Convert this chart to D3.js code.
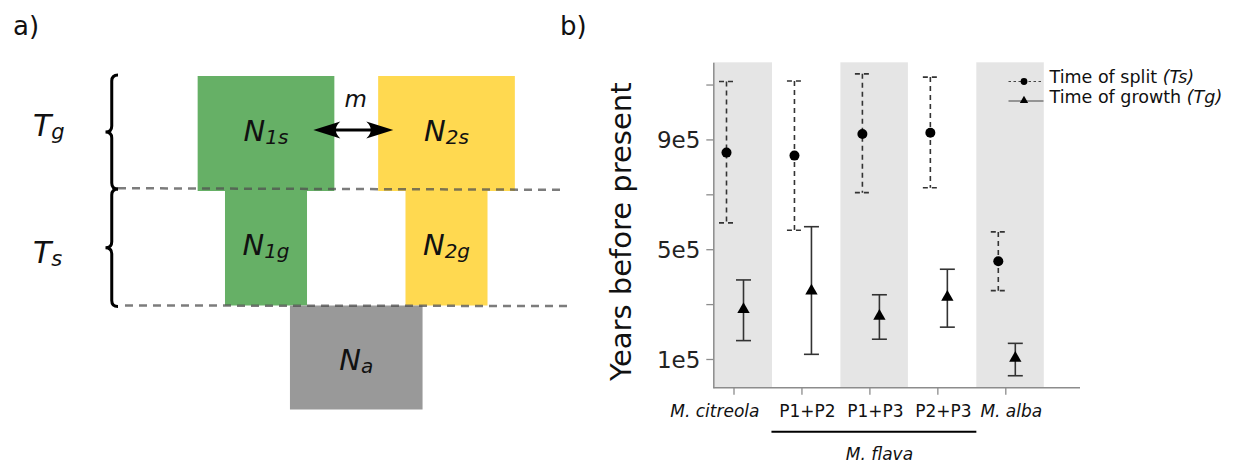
<!DOCTYPE html>
<html>
<head>
<meta charset="utf-8">
<script src="https://cdn.jsdelivr.net/npm/d3@7"></script>
<style>
  body { margin: 0; background: #fff; }
  svg { display: block; font-family: "DejaVu Sans", sans-serif; }
</style>
</head>
<body>
<svg id="fig" width="1237" height="467"></svg>
<script>
// ------- panel b data (years before present) -------
const categories = ["M. citreola", "P1+P2", "P1+P3", "P2+P3", "M. alba"];
const splitMid = [8.52e5, 8.41e5, 9.20e5, 9.24e5, 4.56e5];
const splitLow = [5.96e5, 5.69e5, 7.06e5, 7.24e5, 3.49e5];
const splitHigh = [11.11e5, 11.13e5, 11.39e5, 11.27e5, 5.63e5];
const growthMid = [2.81e5, 3.48e5, 2.56e5, 3.25e5, 1.03e5];
const growthLow = [1.67e5, 1.17e5, 1.72e5, 2.16e5, 0.39e5];
const growthHigh = [3.88e5, 5.82e5, 3.34e5, 4.27e5, 1.57e5];
const yTicks = [1e5, 3e5, 5e5, 7e5, 9e5, 11e5];
const yTickLabels = ["1e5", "", "5e5", "", "9e5", ""];
const shadedCats = ["M. citreola", "P1+P3", "M. alba"];
const flavaCats = ["P1+P2", "P2+P3"];

// ------- panel a data (model diagram) -------
const popSubs = ["1s", "2s", "1g", "2g", "a"];
const popLineage = ["p1", "p2", "p1", "p2", "anc"];
const popEpoch = [0, 0, 1, 1, 2];
const popRelSize = [1, 1, 0.6, 0.6, 0.97];
const periodLabels = ["g", "s"];

const svg = d3.select("#fig");
const lineageColor = { p1: "#66b066", p2: "#ffd950", anc: "#999999" };

// ================= panel a =================
const pa = svg.append("g");

pa.append("text")
  .attr("x", 13).attr("y", 35)
  .attr("font-size", "26px").attr("fill", "#111")
  .text("a)");

const lineageX = d3.scalePoint().domain(["p1", "anc", "p2"]).range([266, 446.5]);
const epochY = d3.scaleLinear().domain([0, 1, 2, 3]).range([76, 191, 305.5, 409.5]);
const sizeW = d3.scaleLinear().domain([0, 1]).range([0, 136.7]);

const pops = popSubs.map((s, i) => ({ sub: s, lin: popLineage[i], ep: popEpoch[i], rel: popRelSize[i] }));

pa.selectAll("rect.pop")
  .data(pops)
  .enter()
  .append("rect")
  .attr("class", "pop")
  .attr("x", d => lineageX(d.lin) - sizeW(d.rel) / 2)
  .attr("y", d => epochY(d.ep))
  .attr("width", d => sizeW(d.rel))
  .attr("height", d => epochY(d.ep + 1) - epochY(d.ep))
  .attr("fill", d => lineageColor[d.lin]);

// dashed epoch boundaries
[[118, 565, 1], [125, 572, 2]].forEach(b => {
  pa.append("line")
    .attr("x1", b[0]).attr("x2", b[1])
    .attr("y1", epochY(b[2]) - (b[2] === 1 ? 2.8 : 0)).attr("y2", epochY(b[2]) - (b[2] === 1 ? 1.2 : -0.5))
    .attr("stroke", "rgba(80,80,80,0.75)")
    .attr("stroke-width", 2.5)
    .attr("stroke-dasharray", "8,6");
});

// population labels
const popText = pa.selectAll("text.pop")
  .data(pops)
  .enter()
  .append("text")
  .attr("class", "pop")
  .attr("text-anchor", "middle")
  .attr("font-style", "italic")
  .attr("fill", "#111")
  .attr("x", d => lineageX(d.lin))
  .attr("y", d => (epochY(d.ep) + epochY(d.ep + 1)) / 2 + (d.ep === 2 ? 12 : 7));
popText.append("tspan").attr("font-size", "29px").text("N");
popText.append("tspan").attr("font-size", "20px").attr("dy", 3).text(d => d.sub);

// migration arrow
const ay = 130, ax0 = 313.3, ax1 = 393.3;
pa.append("line")
  .attr("x1", ax0 + 15).attr("x2", ax1 - 15)
  .attr("y1", ay).attr("y2", ay)
  .attr("stroke", "#000").attr("stroke-width", 3);
[[ax0, 1], [ax1, -1]].forEach(h => {
  const t = h[0], s = h[1];
  pa.append("path")
    .attr("d", `M${t},${ay} L${t + s * 27},${ay - 8.5} Q${t + s * 18},${ay} ${t + s * 27},${ay + 8.5} Z`)
    .attr("fill", "#000");
});
pa.append("text")
  .attr("x", 355.7).attr("y", 107)
  .attr("text-anchor", "middle")
  .attr("font-size", "23px").attr("font-style", "italic").attr("fill", "#111")
  .text("m");

// braces + period labels
function bracePath(xTip, xEnd, y0, y1) {
  const xm = (xTip + xEnd) / 2, ym = (y0 + y1) / 2, r = 6;
  return `M${xEnd},${y0} Q${xm},${y0} ${xm},${y0 + r} L${xm},${ym - r} Q${xm},${ym} ${xTip},${ym}` +
    ` Q${xm},${ym} ${xm},${ym + r} L${xm},${y1 - r} Q${xm},${y1} ${xEnd},${y1}`;
}
const braceY = [[75, 189], [189, 306.5]];
periodLabels.forEach((p, i) => {
  pa.append("path")
    .attr("d", bracePath(105.5, 118, braceY[i][0], braceY[i][1]))
    .attr("fill", "none").attr("stroke", "#000").attr("stroke-width", 3);
  const t = pa.append("text")
    .attr("x", 33).attr("y", (braceY[i][0] + braceY[i][1]) / 2 + 4 + i * 11)
    .attr("font-style", "italic").attr("fill", "#111");
  t.append("tspan").attr("font-size", "30px").text("T");
  t.append("tspan").attr("font-size", "21px").attr("dy", 3).text(p);
});

// ================= panel b =================
const pb = svg.append("g");

pb.append("text")
  .attr("x", 560).attr("y", 35)
  .attr("font-size", "26px").attr("fill", "#111")
  .text("b)");

const plotLeft = 713.3, plotRight = 1080, plotTop = 62.3, plotBottom = 387.7;
const x = d3.scalePoint().domain(categories).range([733.5, 1005.3]);
const y = d3.scaleLinear().domain([-4600, 1.181e6]).range([plotBottom, plotTop]);

// alternating shading
pb.selectAll("rect.band")
  .data(shadedCats)
  .enter()
  .append("rect")
  .attr("class", "band")
  .attr("x", d => Math.max(plotLeft, x(d) - 29))
  .attr("y", plotTop)
  .attr("width", d => x(d) + 38.5 - Math.max(plotLeft, x(d) - 29))
  .attr("height", plotBottom - plotTop)
  .attr("fill", "#e5e5e5");

// axes
const axisColor = "#8c8c8c";
const yAxis = pb.append("g")
  .attr("transform", `translate(${plotLeft},0)`)
  .call(d3.axisLeft(y).tickValues(yTicks).tickFormat((d, i) => yTickLabels[i]).tickSize(7).tickSizeOuter(0));
yAxis.select(".domain").attr("stroke", axisColor).attr("stroke-width", 1.5);
yAxis.selectAll(".tick line").attr("stroke", axisColor).attr("stroke-width", 1.3);
yAxis.selectAll(".tick text")
  .attr("x", -13).attr("dy", "0.36em")
  .attr("font-size", "23px").attr("font-family", "DejaVu Sans").attr("fill", "#222");

const xAxis = pb.append("g")
  .attr("transform", `translate(0,${plotBottom})`)
  .call(d3.axisBottom(x).tickSize(7).tickFormat(""));
xAxis.select(".domain").remove();
xAxis.selectAll(".tick line").attr("stroke", axisColor).attr("stroke-width", 1.3);
pb.append("line")
  .attr("x1", plotLeft).attr("x2", plotRight)
  .attr("y1", plotBottom).attr("y2", plotBottom)
  .attr("stroke", axisColor).attr("stroke-width", 1.5);

// category labels
pb.selectAll("text.cat")
  .data(categories)
  .enter()
  .append("text")
  .attr("class", "cat")
  .attr("x", (d, i) => i === 0 ? x(d) + 26 : x(d) + 6)
  .attr("y", 417.3)
  .attr("text-anchor", (d, i) => i === 0 ? "end" : "middle")
  .attr("font-size", "17px")
  .attr("font-style", d => d.startsWith("M.") ? "italic" : "normal")
  .attr("fill", "#111")
  .text(d => d);

// M. flava bracket
pb.append("line")
  .attr("x1", x(flavaCats[0]) - 30).attr("x2", x(flavaCats[1]) + 39)
  .attr("y1", 431.7).attr("y2", 431.7)
  .attr("stroke", "#000").attr("stroke-width", 2);
pb.append("text")
  .attr("x", (x(flavaCats[0]) + x(flavaCats[1])) / 2 + 10)
  .attr("y", 460)
  .attr("text-anchor", "middle")
  .attr("font-size", "17px").attr("font-style", "italic").attr("fill", "#111")
  .text("M. flava");

// y title
pb.append("text")
  .attr("transform", "translate(631,231.7) rotate(-90)")
  .attr("text-anchor", "middle")
  .attr("font-size", "29px").attr("fill", "#111")
  .text("Years before present");

// error bars + points
const splitOff = -7, growthOff = 10, capHalf = 7.5;
const series = [
  { mid: splitMid, lo: splitLow, hi: splitHigh, off: splitOff, dash: "5,4", shape: "circle" },
  { mid: growthMid, lo: growthLow, hi: growthHigh, off: growthOff, dash: null, shape: "triangle" }
];
series.forEach(s => {
  const rows = categories.map((c, i) => ({ c: c, mid: s.mid[i], lo: s.lo[i], hi: s.hi[i] }));
  const g = pb.append("g");
  const bars = g.selectAll("g.bar").data(rows).enter().append("g").attr("class", "bar");
  const style = sel => sel.attr("stroke", "#333").attr("stroke-width", 1.6)
    .attr("stroke-dasharray", s.dash);
  bars.append("line")
    .attr("x1", d => x(d.c) + s.off).attr("x2", d => x(d.c) + s.off)
    .attr("y1", d => y(d.hi)).attr("y2", d => y(d.lo))
    .call(style);
  ["hi", "lo"].forEach(k => {
    bars.append("line")
      .attr("x1", d => x(d.c) + s.off - capHalf).attr("x2", d => x(d.c) + s.off + capHalf)
      .attr("y1", d => y(d[k])).attr("y2", d => y(d[k]))
      .call(style);
  });
  if (s.shape === "circle") {
    bars.append("circle")
      .attr("cx", d => x(d.c) + s.off).attr("cy", d => y(d.mid))
      .attr("r", 5).attr("fill", "#000");
  } else {
    bars.append("path")
      .attr("d", d3.symbol(d3.symbolTriangle, 66))
      .attr("transform", d => `translate(${x(d.c) + s.off},${y(d.mid)})`)
      .attr("fill", "#000");
  }
});

// legend
const legend = pb.append("g");
const legRows = [
  { y: 81.5, label: "Time of split ", em: "(Ts)", dash: "2.5,2.5", shape: "circle" },
  { y: 101, label: "Time of growth ", em: "(Tg)", dash: null, shape: "triangle" }
];
legRows.forEach(r => {
  legend.append("line")
    .attr("x1", 1008.5).attr("x2", 1043.5)
    .attr("y1", r.y).attr("y2", r.y)
    .attr("stroke", "#444").attr("stroke-width", 1.2)
    .attr("stroke-dasharray", r.dash);
  if (r.shape === "circle") {
    legend.append("circle").attr("cx", 1024).attr("cy", r.y).attr("r", 3.4).attr("fill", "#000");
  } else {
    legend.append("path").attr("d", d3.symbol(d3.symbolTriangle, 30))
      .attr("transform", `translate(1024,${r.y - 0.5})`).attr("fill", "#000");
  }
  const t = legend.append("text")
    .attr("x", 1049.5).attr("y", r.y + 1.5)
    .attr("font-size", "17.5px").attr("fill", "#111");
  t.append("tspan").text(r.label);
  t.append("tspan").attr("font-style", "italic").text(r.em);
});
</script>
</body>
</html>
